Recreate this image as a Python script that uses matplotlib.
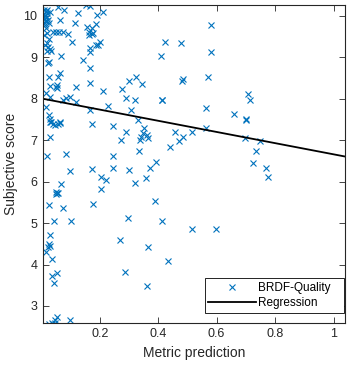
import numpy as np
import matplotlib
matplotlib.use("Agg")
import matplotlib.pyplot as plt

plt.rcParams['font.family'] = ['Liberation Sans', 'DejaVu Sans']

# metric prediction / subjective score pairs
metric = [
    0.010, 0.015, 0.020, 0.008, 0.012, 0.018, 0.005, 0.010, 0.022, 0.015,
    0.008, 0.025, 0.012, 0.030, 0.020, 0.015, 0.020, 0.010, 0.025, 0.018,
    0.012, 0.022, 0.030, 0.020, 0.035, 0.023, 0.025,
    0.057, 0.078, 0.126, 0.152, 0.166, 0.191, 0.211, 0.065, 0.114, 0.186,
    0.157, 0.174, 0.165, 0.172, 0.163, 0.178, 0.040, 0.060, 0.074, 0.051,
    0.091, 0.106, 0.166, 0.166, 0.194, 0.200, 0.188, 0.066, 0.143, 0.166,
    0.026, 0.057, 0.063, 0.029, 0.049, 0.054, 0.054, 0.120, 0.166, 0.211,
    0.277, 0.300, 0.325, 0.346, 0.289, 0.320, 0.414, 0.015, 0.029, 0.017,
    0.086, 0.097, 0.118, 0.074, 0.166, 0.228, 0.308, 0.026, 0.029, 0.034,
    0.040, 0.063, 0.245,
    0.580, 0.422, 0.477, 0.580, 0.411, 0.485, 0.483, 0.571, 0.413, 0.708,
    0.714, 0.562, 0.660, 0.702,
    0.046, 0.029, 0.057, 0.065, 0.029, 0.019, 0.083, 0.097, 0.175, 0.289,
    0.274, 0.331, 0.350, 0.342, 0.360, 0.365, 0.337, 0.348, 0.334, 0.245,
    0.245, 0.175, 0.205, 0.220, 0.205, 0.300, 0.320, 0.357, 0.371, 0.394,
    0.066, 0.051, 0.054, 0.049, 0.057, 0.026, 0.074, 0.042, 0.103, 0.177,
    0.388, 0.297, 0.414, 0.031, 0.026, 0.023, 0.029, 0.271, 0.365,
    0.702, 0.457, 0.486, 0.472, 0.440, 0.517, 0.563, 0.697, 0.748, 0.734,
    0.723, 0.769, 0.774, 0.514, 0.596,
    0.017, 0.037, 0.054, 0.038, 0.043, 0.434, 0.288, 0.363, 0.054, 0.046,
    0.026, 0.038, 0.046, 0.100,
]
score = [
    10.15, 10.12, 10.08, 10.05, 10.00, 9.98, 9.95, 9.92, 9.90, 9.88,
    9.85, 9.82, 9.78, 10.10, 10.15, 9.70, 9.60, 9.55, 9.45, 9.35,
    9.30, 9.25, 9.20, 9.15, 9.15, 8.87, 8.88,
    10.21, 10.14, 10.08, 10.26, 10.25, 10.02, 10.09, 9.90, 9.84, 9.81,
    9.73, 9.70, 9.62, 9.57, 9.55, 9.60, 9.62, 9.62, 9.62, 9.62,
    9.56, 9.36, 9.22, 9.12, 9.30, 9.36, 9.30, 9.03, 8.94, 8.74,
    8.52, 8.52, 8.63, 8.31, 8.29, 8.33, 8.25, 8.28, 8.39, 8.20,
    8.23, 8.42, 8.52, 8.36, 8.01, 7.97, 7.97, 8.15, 8.05, 7.81,
    8.01, 8.04, 7.93, 7.97, 7.73, 7.83, 7.73, 7.61, 7.51, 7.43,
    7.39, 7.43, 7.35,
    9.78, 9.36, 9.34, 9.12, 9.03, 8.47, 8.44, 8.52, 7.97, 8.11,
    7.96, 7.77, 7.63, 7.51,
    7.37, 7.45, 7.39, 7.42, 7.07, 6.62, 6.67, 6.26, 7.39, 7.21,
    7.01, 7.49, 7.29, 7.09, 7.13, 7.05, 7.01, 7.17, 6.75, 6.62,
    6.32, 6.30, 6.11, 6.04, 5.83, 6.28, 5.98, 6.08, 6.32, 6.48,
    5.95, 5.76, 5.72, 5.70, 5.73, 5.44, 5.36, 5.04, 5.04, 5.46,
    5.54, 5.12, 5.04, 4.72, 4.50, 4.43, 4.45, 4.58, 4.43,
    7.49, 7.21, 7.09, 6.99, 6.83, 7.21, 7.29, 7.05, 6.97, 6.75,
    6.46, 6.32, 6.11, 4.85, 4.85,
    4.31, 4.14, 3.79, 3.73, 3.55, 4.09, 3.81, 3.48, 2.73, 2.65,
    2.57, 2.58, 2.60, 2.67,
]
# regression line (slope, intercept) as drawn in the reference
reg_coef = [-1.35, 8.01]

x_lim = (0.006, 1.039)
y_lim = (2.597, 10.258)

fig = plt.figure(figsize=(3.51, 3.70), dpi=100)
ax = fig.add_axes([0.1225, 0.128, 0.8605, 0.8577])

ax.plot(metric, score, 'x', color='#0072BD', markersize=5, markeredgewidth=0.8,
        label='BRDF-Quality')
line_x = np.array(x_lim)
ax.plot(line_x, np.polyval(reg_coef, line_x), color='k', linewidth=1.3,
        label='Regression')

ax.set_xlim(*x_lim)
ax.set_ylim(*y_lim)
ax.set_xticks([0.2, 0.4, 0.6, 0.8, 1.0])
ax.set_xticklabels(['0.2', '0.4', '0.6', '0.8', '1'])
ax.set_yticks(range(3, 11))
ax.tick_params(direction='in', top=True, right=True, length=4, width=0.6,
               colors='#262626', labelsize=9, pad=4)
for s in ax.spines.values():
    s.set_color('#262626')
    s.set_linewidth(0.8)

ax.set_xlabel('Metric prediction', fontsize=10, color='#262626')
ax.set_ylabel('Subjective score', fontsize=10, color='#262626')

# MATLAB-like legend box: wide, with spare room right of the text
leg = ax.legend(loc='lower left', bbox_to_anchor=(0.536, 0.031, 0.46, 0.2),
                mode='expand', fontsize=8.5, handlelength=4.0,
                handletextpad=0.2, fancybox=False, framealpha=1,
                edgecolor='k', borderaxespad=0, borderpad=0.3,
                labelspacing=0.3)
leg.get_frame().set_linewidth(0.6)

fig.savefig('out.png', dpi=100)
